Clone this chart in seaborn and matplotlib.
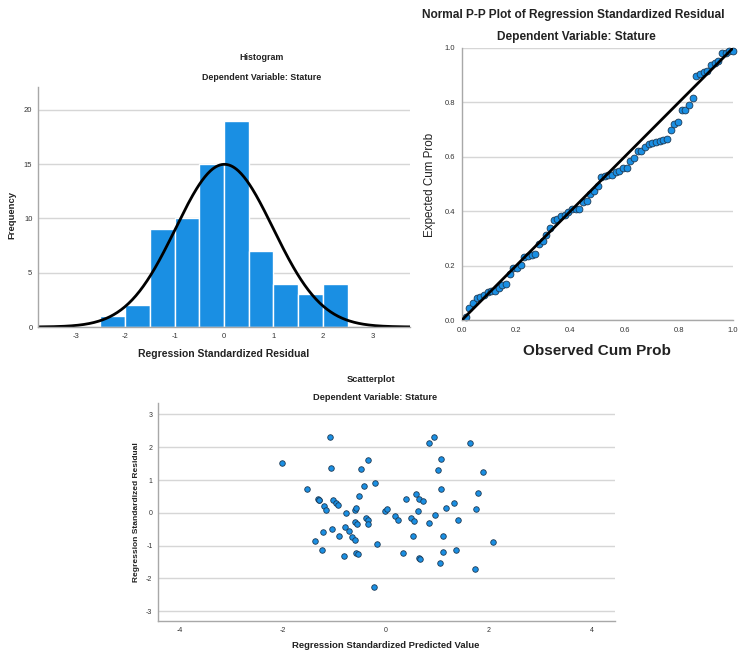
import math
import numpy as np
import pandas as pd
import matplotlib
matplotlib.use("Agg")
import matplotlib.pyplot as plt
import seaborn as sns

# standardized predicted value / standardized residual
pred = [-1.09, -2.02, -1.07, -0.35, -0.49, -1.53, -0.43, -0.21, -1.33, -1.30,
        -1.31, -1.20, -1.17, -1.02, -0.98, -0.93, -0.52, -0.78, -0.60, -0.58,
        -0.60, -0.57, -0.39, -0.35, -0.34, -1.22, -1.04, -0.80, -0.72, -0.92,
        -0.66, -0.60, -1.38, -1.24, -0.17, -0.82, -0.58, -0.55, -0.23, -0.02,
        0.01, 0.18, 0.23, 0.39, 0.33, 0.48, 0.54, 0.52, 0.58, 0.64,
        0.72, 0.62, 0.65, 0.67, 0.84, 0.83, 0.93, 1.63, 1.07, 1.02,
        1.88, 1.06, 1.78, 1.32, 1.17, 1.75, 0.95, 1.40, 1.10, 2.08,
        1.10, 1.37, 1.04, 1.72]
resid = [2.32, 1.52, 1.38, 1.61, 1.35, 0.74, 0.81, 0.90, 0.41, 0.39,
         0.40, 0.21, 0.08, 0.38, 0.31, 0.24, 0.52, -0.02, 0.08, 0.15,
         -0.29, -0.33, -0.16, -0.23, -0.34, -0.59, -0.49, -0.42, -0.55, -0.70,
         -0.73, -0.84, -0.87, -1.12, -0.96, -1.32, -1.24, -1.27, -2.25, 0.06,
         0.12, -0.09, -0.23, 0.42, -1.24, -0.17, -0.26, -0.72, 0.58, 0.43,
         0.35, 0.07, -1.38, -1.40, 2.12, -0.30, 2.32, 2.12, 1.65, 1.30,
         1.26, 0.74, 0.61, 0.31, 0.15, 0.11, -0.06, -0.23, -0.71, -0.88,
         -1.18, -1.14, -1.52, -1.70]

hist_bins = [-2.5, -2.0, -1.5, -1.0, -0.5, 0.0, 0.5, 1.0, 1.5, 2.0, 2.5]
hist_xticks = [-3, -2, -1, 0, 1, 2, 3]
hist_yticks = [0, 5, 10, 15, 20]
pp_ticks = [0.0, 0.2, 0.4, 0.6, 0.8, 1.0]
sc_xticks = [-4, -2, 0, 2, 4]
sc_yticks = [-3, -2, -1, 0, 1, 2, 3]

sns.set_style("white")
plt.rcParams["font.family"] = ["Liberation Sans", "DejaVu Sans"]
plt.rcParams["axes.unicode_minus"] = False

BLUE = "#1a8fe3"
EDGE = "#1d3a55"
GRID = "#d6d6d6"
SPINE = "#a8a8a8"
TXT = "#222222"

W, H = 740, 652
fig = plt.figure(figsize=(W / 100, H / 100), dpi=100)


def box(l, t, r, b):
    return [l / W, 1 - b / H, (r - l) / W, (b - t) / H]


def label(x, y, s, size, rot=0, weight="bold"):
    fig.text(x / W, 1 - y / H, s, ha="center", va="center", fontsize=size,
             fontweight=weight, rotation=rot, color=TXT)


def style(ax, tick_size, pad):
    for side in ["top", "right"]:
        ax.spines[side].set_visible(False)
    for side in ["left", "bottom"]:
        ax.spines[side].set_color(SPINE)
        ax.spines[side].set_linewidth(1)
    ax.yaxis.grid(True, color=GRID, lw=1)
    ax.xaxis.grid(False)
    ax.set_axisbelow(True)
    ax.tick_params(length=0, labelsize=tick_size, colors="#333333", pad=pad)
    ax.set_xlabel("")
    ax.set_ylabel("")


df = pd.DataFrame({"pred": pred, "resid": resid})
n = len(df)

# ---------------- HISTOGRAM ----------------
ax1 = fig.add_axes(box(38, 87, 410, 327))
sns.histplot(data=df, x="resid", bins=hist_bins, color=BLUE, alpha=1,
             edgecolor="white", linewidth=1, ax=ax1)
mu = df["resid"].mean()
sd = df["resid"].std()
xs = np.linspace(-3.76, 3.76, 400)
ys = n * 0.5 * np.exp(-0.5 * ((xs - mu) / sd) ** 2) / (sd * np.sqrt(2 * np.pi))
sns.lineplot(x=xs, y=ys, color="black", lw=2, ax=ax1)
ax1.set_xlim(-3.76, 3.76)
ax1.set_ylim(0, 22.1)
ax1.set_xticks(hist_xticks)
ax1.set_yticks(hist_yticks)
style(ax1, 5.5, 4)

label(262, 58, "Histogram", 6.4)
label(262, 77, "Dependent Variable: Stature", 6.4)
label(224, 354, "Regression Standardized Residual", 7.5)
label(12, 215, "Frequency", 6.8, rot=90)

# ---------------- P-P PLOT ----------------
ax2 = fig.add_axes(box(462, 48, 733, 320))
srt = np.sort(df["resid"].values)
obs = np.arange(1, n + 1) / n
expct = [0.5 * (1 + math.erf(z / math.sqrt(2))) for z in srt]
ax2.axline((0, 0), slope=1, color="black", lw=2, zorder=3)
sns.scatterplot(x=obs, y=expct, s=24, color=BLUE, edgecolor=EDGE,
                linewidth=0.6, ax=ax2, zorder=2, clip_on=False)
ax2.set_xlim(0, 1)
ax2.set_ylim(0, 1)
ax2.set_xticks(pp_ticks)
ax2.set_yticks(pp_ticks)
ax2.set_xticklabels([f"{t:.1f}" for t in pp_ticks])
ax2.set_yticklabels([f"{t:.1f}" for t in pp_ticks])
style(ax2, 5.5, 5)

label(573, 15, "Normal P-P Plot of Regression Standardized Residual", 8.6)
label(576, 37, "Dependent Variable: Stature", 8.6)
label(597, 351, "Observed Cum Prob", 11)
label(430, 185, "Expected Cum Prob", 8.4, rot=90, weight="normal")

# ---------------- SCATTERPLOT ----------------
ax3 = fig.add_axes(box(158, 403, 615, 621))
sns.scatterplot(data=df, x="pred", y="resid", s=16, color=BLUE,
                edgecolor=EDGE, linewidth=0.6, ax=ax3)
ax3.set_xlim(-4.43, 4.45)
ax3.set_ylim(-3.3, 3.35)
ax3.set_xticks(sc_xticks)
ax3.set_yticks(sc_yticks)
style(ax3, 5, 4)

label(371, 379, "Scatterplot", 6.7)
label(375, 397, "Dependent Variable: Stature", 6.7)
label(386, 645, "Regression Standardized Predicted Value", 6.8)
label(137, 512, "Regression Standardized Residual", 6.0, rot=90)

fig.savefig("out.png", dpi=100)
